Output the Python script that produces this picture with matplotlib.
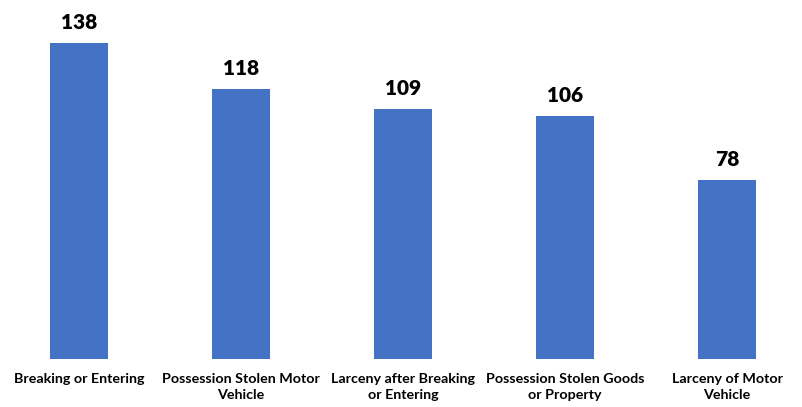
import matplotlib.pyplot as plt

# data
categories = ["Breaking or Entering",
              "Possession Stolen Motor\nVehicle",
              "Larceny after Breaking\nor Entering",
              "Possession Stolen Goods\nor Property",
              "Larceny of Motor\nVehicle"]
counts = [138, 118, 109, 106, 78]

plt.rcParams['font.family'] = ['Lato', 'DejaVu Sans']

fig = plt.figure(figsize=(8.03, 4.07), dpi=100)
ax = fig.add_axes([0, 48 / 407, 1, 359 / 407])

x = list(range(len(categories)))
bars = ax.bar(x, counts, width=0.358, color='#4472C4')

for xi, v in zip(x, counts):
    ax.annotate(str(v), (xi, v), xytext=(0, 8), textcoords='offset points',
                ha='center', va='bottom', fontsize=15, fontweight='heavy')

ax.set_xlim(-0.488, 4.469)
ax.set_ylim(0, 156.8)
ax.set_xticks(x)
ax.set_xticklabels(categories, fontsize=10.3, fontweight='bold', linespacing=1.45)
ax.tick_params(axis='x', length=0, pad=10)
ax.set_yticks([])
for s in ax.spines.values():
    s.set_visible(False)

fig.savefig('out.png', dpi=100)
